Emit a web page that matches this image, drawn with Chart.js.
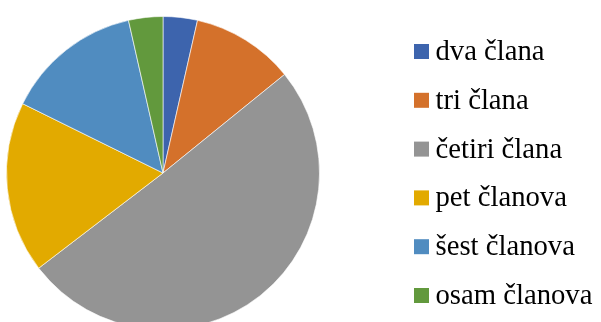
<!DOCTYPE html>
<html>
<head>
<meta charset="utf-8">
<script src="https://cdn.jsdelivr.net/npm/chart.js@4"></script>
<style>
    html, body { margin: 0; padding: 0; background: #fff; overflow: hidden; }
    #wrap { width: 601px; height: 340px; }
</style>
</head>
<body>
<div id="wrap"><canvas id="pieChart" width="601" height="340"></canvas></div>
<script>
// household size categories and counts
const categories = ['dva člana', 'tri člana', 'četiri člana', 'pet članova', 'šest članova', 'osam članova'];
const counts = [4, 12, 57, 20, 16, 4];
const colors = ['#3D64AD', '#D4712B', '#949494', '#E2AA00', '#508CC0', '#62993D'];

// legend on the right, drawn straight onto the canvas
const sideLegend = {
    id: 'sideLegend',
    afterDraw(chart) {
        const ctx = chart.ctx;
        const ds = chart.data.datasets[0];
        ctx.save();
        ctx.font = '28.7px "Liberation Serif", "Times New Roman", serif';
        ctx.textBaseline = 'alphabetic';
        chart.data.labels.forEach((label, i) => {
            const y = 44 + i * 48.8;
            ctx.fillStyle = ds.backgroundColor[i];
            ctx.fillRect(414, y, 15, 15);
            ctx.fillStyle = '#000';
            ctx.fillText(label, 435.5, y + 16);
        });
        ctx.restore();
    }
};

const ctx = document.getElementById('pieChart').getContext('2d');

new Chart(ctx, {
    type: 'pie',
    data: {
        labels: categories,
        datasets: [{
            data: counts,
            backgroundColor: colors,
            borderColor: 'rgba(255, 255, 255, 0.6)',
            borderWidth: 1
        }]
    },
    options: {
        responsive: false,
        animation: false,
        layout: {
            padding: { left: 6, top: 16, right: 281, bottom: 10 }
        },
        plugins: {
            legend: { display: false },
            tooltip: { enabled: false }
        }
    },
    plugins: [sideLegend]
});
</script>
</body>
</html>
